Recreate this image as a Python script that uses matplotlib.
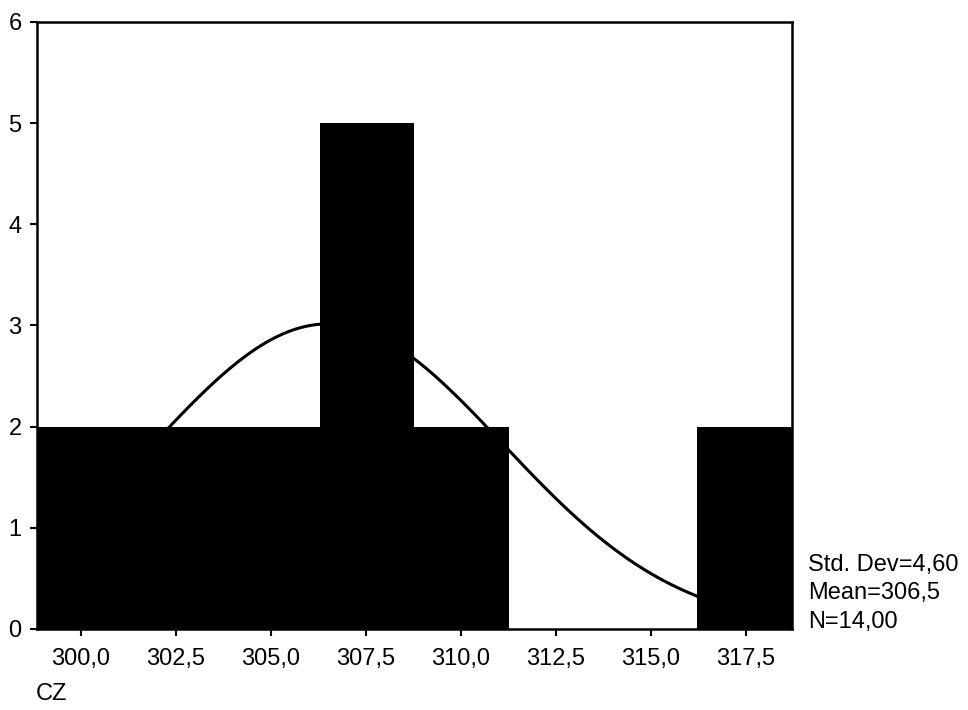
import numpy as np
import matplotlib
matplotlib.use("Agg")
import matplotlib.pyplot as plt
from matplotlib.ticker import FixedLocator, FuncFormatter

plt.rcParams['font.family'] = ['Liberation Sans', 'DejaVu Sans']

# histogram
bin_edges = [298.84, 301.32, 303.81, 306.29, 308.77, 311.26, 313.74, 316.22, 318.71]
counts = [2, 2, 2, 5, 2, 0, 0, 2]

x_ticks = [300.0, 302.5, 305.0, 307.5, 310.0, 312.5, 315.0, 317.5]
y_ticks = [0, 1, 2, 3, 4, 5, 6]

std_dev = 4.60
mean = 306.5
n = 14

fig = plt.figure(figsize=(9.68, 7.10), dpi=100)
ax = fig.add_axes([0.0382, 0.1141, 0.78, 0.855])

lefts = np.array(bin_edges[:-1])
widths = np.diff(bin_edges)
ax.bar(lefts, counts, width=widths, align='edge', color='black',
       edgecolor='black', linewidth=0, zorder=3)

# fitted normal curve, drawn behind the bars
bw = widths.mean()
xs = np.linspace(bin_edges[0], bin_edges[-1], 400)
ys = n * bw / (std_dev * np.sqrt(2 * np.pi)) * np.exp(-0.5 * ((xs - mean) / std_dev) ** 2)
ax.plot(xs, ys, color='black', linewidth=2.2, zorder=2)

ax.set_xlim(bin_edges[0], bin_edges[-1])
ax.set_ylim(0, 6)
ax.xaxis.set_major_locator(FixedLocator(x_ticks))
ax.xaxis.set_major_formatter(FuncFormatter(lambda v, p: f"{v:.1f}".replace('.', ',')))
ax.yaxis.set_major_locator(FixedLocator(y_ticks))
ax.tick_params(axis='both', direction='out', length=5, width=1.5, labelsize=17,
               colors='black')
ax.tick_params(axis='x', pad=9)
ax.tick_params(axis='y', pad=6)
for s in ax.spines.values():
    s.set_linewidth(1.8)

stats = ["Std. Dev=" + f"{std_dev:.2f}".replace('.', ','),
         "Mean=" + f"{mean:.1f}".replace('.', ','),
         "N=" + f"{n:.2f}".replace('.', ',')]
for i, line in enumerate(stats):
    fig.text(808 / 968, 1 - (571 + i * 28.5) / 710, line, fontsize=17,
             ha='left', va='baseline')

fig.text(36 / 968, 1 - 700 / 710, "CZ", fontsize=17, ha='left', va='baseline')

fig.savefig("out.png", dpi=100)
